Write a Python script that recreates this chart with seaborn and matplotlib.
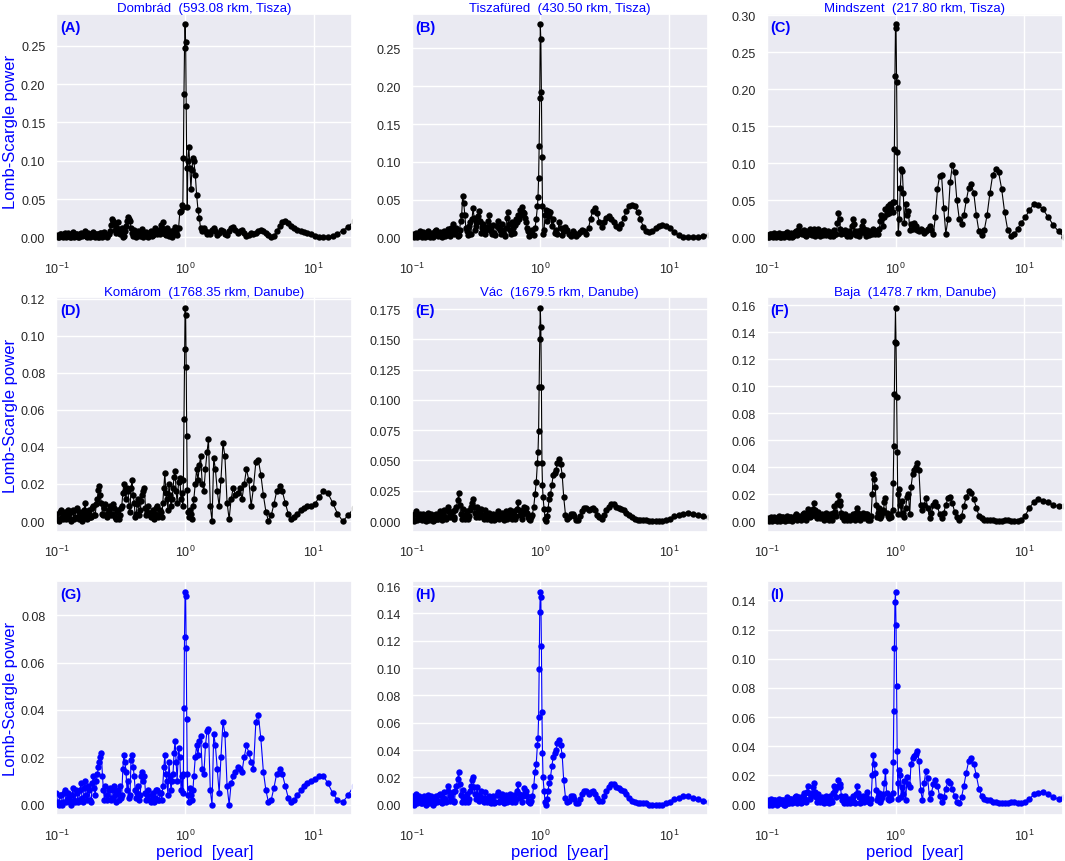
import matplotlib
matplotlib.use("Agg")
import matplotlib.pyplot as plt
import seaborn as sns

# periodos (anos), comunes a todas las estaciones
period = [
    0.100, 0.102, 0.104, 0.106, 0.108, 0.110, 0.112, 0.114, 0.116, 0.118,
    0.120, 0.122, 0.124, 0.127, 0.129, 0.132, 0.134, 0.137, 0.139, 0.142,
    0.144, 0.147, 0.149, 0.152, 0.155, 0.158, 0.161, 0.164, 0.167, 0.170,
    0.173, 0.176, 0.179, 0.183, 0.186, 0.190, 0.193, 0.197, 0.200, 0.204,
    0.208, 0.212, 0.215, 0.219, 0.223, 0.228, 0.232, 0.236, 0.240, 0.245,
    0.249, 0.254, 0.259, 0.264, 0.268, 0.273, 0.278, 0.284, 0.289, 0.295,
    0.300, 0.306, 0.311, 0.317, 0.322, 0.328, 0.334, 0.341, 0.347, 0.354,
    0.360, 0.367, 0.373, 0.380, 0.387, 0.395, 0.402, 0.410, 0.417, 0.425,
    0.432, 0.440, 0.448, 0.457, 0.465, 0.474, 0.483, 0.492, 0.501, 0.510,
    0.519, 0.529, 0.539, 0.549, 0.559, 0.570, 0.580, 0.590, 0.601, 0.612,
    0.624, 0.636, 0.647, 0.659, 0.671, 0.684, 0.696, 0.709, 0.722, 0.736,
    0.749, 0.763, 0.777, 0.792, 0.806, 0.821, 0.836, 0.852, 0.867,
    0.89, 0.91, 0.93, 0.95, 0.96, 0.97, 0.98, 0.99,
    1.00, 1.01, 1.02, 1.03, 1.04, 1.05, 1.07, 1.09,
    1.11, 1.13, 1.15, 1.17, 1.20, 1.23, 1.26, 1.29, 1.32, 1.36, 1.40,
    1.44, 1.48, 1.52, 1.57, 1.62, 1.67, 1.72, 1.78, 1.84, 1.90, 1.97,
    2.04, 2.12, 2.20, 2.28, 2.37, 2.46, 2.56, 2.66, 2.77, 2.88,
    3.00, 3.13, 3.26, 3.40, 3.55, 3.71, 3.88, 4.06, 4.25, 4.45,
    4.67, 4.90, 5.15, 5.42, 5.70, 6.00, 6.33, 6.68, 7.05, 7.45,
    7.90, 8.40, 8.90, 9.50, 10.2, 11.0, 11.9, 12.9, 14.0, 15.3,
    16.8, 18.5, 20.5,
]

pow_dombrad = [
    0.003, 0.001, 0.000, 0.004, 0.005, 0.002, 0.001, 0.005, 0.006, 0.001,
    0.002, 0.006, 0.004, 0.001, 0.000, 0.003, 0.007, 0.001, 0.002, 0.004,
    0.005, 0.000, 0.001, 0.004, 0.006, 0.002, 0.003, 0.006, 0.008, 0.002,
    0.001, 0.006, 0.005, 0.001, 0.002, 0.004, 0.007, 0.002, 0.001, 0.005,
    0.004, 0.000, 0.001, 0.006, 0.006, 0.001, 0.002, 0.007, 0.005, 0.002,
    0.001, 0.004, 0.008, 0.016, 0.024, 0.021, 0.018, 0.010, 0.006, 0.012,
    0.020, 0.009, 0.004, 0.008, 0.012, 0.001, 0.002, 0.009, 0.015, 0.022,
    0.027, 0.024, 0.021, 0.012, 0.006, 0.002, 0.010, 0.005, 0.001, 0.006,
    0.009, 0.004, 0.002, 0.007, 0.011, 0.001, 0.003, 0.006, 0.007, 0.002,
    0.001, 0.005, 0.008, 0.002, 0.003, 0.009, 0.012, 0.006, 0.004, 0.008,
    0.010, 0.004, 0.016, 0.012, 0.020, 0.009, 0.005, 0.003, 0.012, 0.006,
    0.002, 0.007, 0.009, 0.001, 0.004, 0.010, 0.013, 0.007, 0.003,
    0.012, 0.033, 0.035, 0.042, 0.040, 0.104, 0.187, 0.247,
    0.278, 0.255, 0.172, 0.090, 0.040, 0.100, 0.118, 0.090,
    0.063, 0.088, 0.103, 0.100, 0.082, 0.055, 0.036, 0.025, 0.012, 0.008, 0.012,
    0.008, 0.005, 0.007, 0.004, 0.010, 0.012, 0.008, 0.003, 0.006, 0.010, 0.009,
    0.005, 0.003, 0.008, 0.012, 0.013, 0.010, 0.006, 0.008, 0.010, 0.006,
    0.002, 0.003, 0.006, 0.004, 0.006, 0.009, 0.010, 0.009, 0.006, 0.003,
    0.001, 0.002, 0.008, 0.015, 0.020, 0.021, 0.019, 0.015, 0.012, 0.010,
    0.009, 0.007, 0.006, 0.005, 0.002, 0.001, 0.000, 0.000, 0.002, 0.005,
    0.009, 0.014, 0.021,
]

pow_tiszafured = [
    0.004, 0.002, 0.000, 0.005, 0.006, 0.001, 0.002, 0.006, 0.008, 0.003,
    0.001, 0.007, 0.005, 0.000, 0.002, 0.006, 0.009, 0.002, 0.001, 0.004,
    0.006, 0.001, 0.003, 0.008, 0.010, 0.004, 0.002, 0.006, 0.007, 0.002,
    0.001, 0.005, 0.008, 0.002, 0.003, 0.009, 0.011, 0.004, 0.002, 0.012,
    0.018, 0.008, 0.004, 0.009, 0.012, 0.002, 0.003, 0.010, 0.022, 0.030,
    0.055, 0.045, 0.030, 0.012, 0.008, 0.003, 0.015, 0.020, 0.005, 0.025,
    0.039, 0.026, 0.010, 0.015, 0.020, 0.028, 0.035, 0.022, 0.006, 0.012,
    0.018, 0.007, 0.004, 0.010, 0.014, 0.022, 0.029, 0.015, 0.008, 0.004,
    0.016, 0.006, 0.003, 0.015, 0.022, 0.012, 0.010, 0.004, 0.018, 0.010,
    0.005, 0.002, 0.012, 0.026, 0.034, 0.018, 0.010, 0.004, 0.020, 0.012,
    0.006, 0.016, 0.025, 0.020, 0.030, 0.024, 0.036, 0.030, 0.040, 0.034,
    0.032, 0.026, 0.020, 0.012, 0.008, 0.002, 0.004, 0.008, 0.010,
    0.003, 0.012, 0.025, 0.041, 0.054, 0.078, 0.121, 0.184,
    0.282, 0.262, 0.192, 0.106, 0.041, 0.005, 0.010, 0.030,
    0.036, 0.022, 0.035, 0.028, 0.034, 0.015, 0.025, 0.006, 0.010, 0.004, 0.020,
    0.012, 0.003, 0.008, 0.014, 0.010, 0.005, 0.002, 0.008, 0.006, 0.002, 0.004,
    0.007, 0.010, 0.008, 0.004, 0.012, 0.025, 0.035, 0.039, 0.032, 0.020,
    0.014, 0.020, 0.026, 0.028, 0.025, 0.020, 0.015, 0.013, 0.018, 0.026,
    0.035, 0.041, 0.043, 0.041, 0.034, 0.024, 0.014, 0.008, 0.007, 0.009,
    0.012, 0.015, 0.016, 0.015, 0.012, 0.007, 0.003, 0.001, 0.000, 0.000,
    0.001, 0.002, 0.003,
]

pow_mindszent = [
    0.003, 0.001, 0.000, 0.004, 0.005, 0.002, 0.001, 0.006, 0.004, 0.000,
    0.002, 0.005, 0.006, 0.001, 0.000, 0.004, 0.005, 0.001, 0.003, 0.006,
    0.007, 0.002, 0.001, 0.005, 0.006, 0.001, 0.002, 0.007, 0.009, 0.004,
    0.003, 0.010, 0.015, 0.006, 0.004, 0.008, 0.010, 0.003, 0.002, 0.006,
    0.008, 0.004, 0.012, 0.006, 0.003, 0.008, 0.011, 0.002, 0.004, 0.009,
    0.012, 0.005, 0.002, 0.006, 0.008, 0.003, 0.010, 0.006, 0.003, 0.007,
    0.009, 0.004, 0.002, 0.006, 0.007, 0.002, 0.010, 0.005, 0.004, 0.020,
    0.033, 0.025, 0.012, 0.004, 0.006, 0.009, 0.010, 0.004, 0.002, 0.005,
    0.008, 0.002, 0.004, 0.015, 0.025, 0.018, 0.008, 0.003, 0.006, 0.009,
    0.002, 0.006, 0.010, 0.016, 0.022, 0.012, 0.006, 0.002, 0.010, 0.005,
    0.003, 0.007, 0.008, 0.004, 0.011, 0.006, 0.004, 0.008, 0.009, 0.005,
    0.012, 0.022, 0.030, 0.026, 0.015, 0.028, 0.038, 0.032, 0.043,
    0.033, 0.045, 0.040, 0.048, 0.035, 0.048, 0.120, 0.218,
    0.288, 0.283, 0.210, 0.115, 0.040, 0.006, 0.025, 0.067,
    0.093, 0.090, 0.060, 0.020, 0.045, 0.030, 0.036, 0.010, 0.018, 0.012, 0.020,
    0.016, 0.010, 0.008, 0.012, 0.010, 0.006, 0.008, 0.012, 0.016, 0.010, 0.004,
    0.028, 0.065, 0.083, 0.084, 0.040, 0.005, 0.025, 0.075, 0.098, 0.088,
    0.050, 0.025, 0.018, 0.030, 0.050, 0.067, 0.072, 0.060, 0.030, 0.008,
    0.003, 0.010, 0.030, 0.060, 0.085, 0.092, 0.088, 0.066, 0.034, 0.010,
    0.002, 0.004, 0.012, 0.020, 0.027, 0.037, 0.045, 0.044, 0.038, 0.028,
    0.017, 0.008, 0.000,
]

pow_komarom = [
    0.004, 0.001, 0.000, 0.005, 0.006, 0.002, 0.001, 0.004, 0.005, 0.001,
    0.002, 0.006, 0.003, 0.001, 0.000, 0.005, 0.006, 0.001, 0.002, 0.006,
    0.007, 0.002, 0.001, 0.005, 0.004, 0.000, 0.002, 0.006, 0.010, 0.004,
    0.001, 0.005, 0.006, 0.002, 0.002, 0.007, 0.008, 0.003, 0.003, 0.009,
    0.012, 0.017, 0.019, 0.014, 0.010, 0.004, 0.003, 0.007, 0.009, 0.004,
    0.002, 0.006, 0.008, 0.003, 0.004, 0.009, 0.007, 0.002, 0.001, 0.005,
    0.006, 0.001, 0.003, 0.007, 0.008, 0.015, 0.020, 0.016, 0.012, 0.018,
    0.016, 0.008, 0.005, 0.018, 0.022, 0.014, 0.010, 0.002, 0.004, 0.009,
    0.012, 0.003, 0.006, 0.011, 0.014, 0.016, 0.018, 0.007, 0.003, 0.005,
    0.008, 0.003, 0.002, 0.005, 0.006, 0.001, 0.004, 0.007, 0.008, 0.002,
    0.003, 0.006, 0.005, 0.002, 0.010, 0.018, 0.026, 0.015, 0.012, 0.006,
    0.020, 0.014, 0.008, 0.012, 0.018, 0.024, 0.027, 0.016, 0.010,
    0.021, 0.023, 0.012, 0.015, 0.008, 0.022, 0.055, 0.093,
    0.115, 0.111, 0.083, 0.046, 0.017, 0.005, 0.002, 0.006,
    0.004, 0.001, 0.008, 0.012, 0.020, 0.028, 0.022, 0.030, 0.035, 0.020, 0.016,
    0.028, 0.037, 0.044, 0.008, 0.000, 0.034, 0.028, 0.016, 0.008, 0.022, 0.042,
    0.035, 0.010, 0.001, 0.012, 0.018, 0.014, 0.015, 0.018, 0.012, 0.020,
    0.028, 0.022, 0.008, 0.018, 0.032, 0.033, 0.025, 0.014, 0.005, 0.000,
    0.003, 0.009, 0.016, 0.019, 0.016, 0.010, 0.004, 0.001, 0.002, 0.004,
    0.006, 0.007, 0.008, 0.008, 0.009, 0.013, 0.016, 0.015, 0.010, 0.004,
    0.000, 0.003, 0.007,
]

pow_vac = [
    0.005, 0.002, 0.000, 0.006, 0.008, 0.001, 0.002, 0.005, 0.006, 0.002,
    0.001, 0.006, 0.005, 0.001, 0.000, 0.004, 0.007, 0.001, 0.002, 0.006,
    0.004, 0.000, 0.001, 0.005, 0.006, 0.002, 0.002, 0.006, 0.008, 0.003,
    0.001, 0.006, 0.009, 0.003, 0.002, 0.008, 0.012, 0.005, 0.003, 0.007,
    0.008, 0.003, 0.002, 0.009, 0.012, 0.017, 0.023, 0.013, 0.006, 0.002,
    0.010, 0.004, 0.002, 0.006, 0.008, 0.002, 0.004, 0.009, 0.012, 0.015,
    0.018, 0.012, 0.007, 0.003, 0.012, 0.008, 0.003, 0.007, 0.010, 0.004,
    0.005, 0.002, 0.009, 0.004, 0.002, 0.006, 0.007, 0.003, 0.001, 0.005,
    0.006, 0.001, 0.002, 0.006, 0.008, 0.002, 0.003, 0.006, 0.007, 0.003,
    0.001, 0.005, 0.008, 0.002, 0.003, 0.007, 0.009, 0.004, 0.002, 0.006,
    0.008, 0.002, 0.004, 0.010, 0.016, 0.009, 0.005, 0.008, 0.002, 0.006,
    0.012, 0.010, 0.011, 0.007, 0.003, 0.002, 0.001, 0.003, 0.005,
    0.012, 0.022, 0.032, 0.048, 0.057, 0.074, 0.111, 0.150,
    0.176, 0.160, 0.111, 0.048, 0.030, 0.020, 0.010, 0.002,
    0.000, 0.004, 0.010, 0.018, 0.022, 0.030, 0.038, 0.040, 0.042, 0.048, 0.051,
    0.047, 0.038, 0.020, 0.005, 0.002, 0.003, 0.006, 0.006, 0.004, 0.001, 0.001,
    0.004, 0.008, 0.011, 0.011, 0.009, 0.010, 0.011, 0.009, 0.005, 0.003,
    0.002, 0.005, 0.009, 0.012, 0.014, 0.014, 0.012, 0.011, 0.010, 0.009,
    0.007, 0.005, 0.003, 0.002, 0.001, 0.001, 0.001, 0.001, 0.000, 0.000,
    0.000, 0.000, 0.000, 0.001, 0.002, 0.004, 0.005, 0.006, 0.007, 0.006,
    0.005, 0.004, 0.003,
]

pow_baja = [
    0.002, 0.001, 0.000, 0.002, 0.003, 0.000, 0.001, 0.003, 0.002, 0.001,
    0.000, 0.002, 0.004, 0.000, 0.001, 0.003, 0.003, 0.001, 0.000, 0.002,
    0.004, 0.001, 0.001, 0.003, 0.003, 0.000, 0.002, 0.004, 0.005, 0.002,
    0.001, 0.003, 0.004, 0.001, 0.002, 0.005, 0.006, 0.002, 0.001, 0.006,
    0.009, 0.005, 0.003, 0.004, 0.006, 0.009, 0.013, 0.008, 0.004, 0.002,
    0.007, 0.003, 0.002, 0.004, 0.005, 0.002, 0.001, 0.004, 0.006, 0.002,
    0.003, 0.001, 0.005, 0.002, 0.001, 0.006, 0.011, 0.007, 0.004, 0.013,
    0.019, 0.015, 0.012, 0.006, 0.003, 0.001, 0.005, 0.002, 0.001, 0.003,
    0.004, 0.001, 0.002, 0.004, 0.005, 0.002, 0.001, 0.006, 0.010, 0.006,
    0.004, 0.001, 0.002, 0.004, 0.006, 0.002, 0.003, 0.005, 0.005, 0.001,
    0.002, 0.001, 0.004, 0.020, 0.035, 0.031, 0.025, 0.012, 0.003, 0.006,
    0.010, 0.002, 0.004, 0.006, 0.008, 0.014, 0.017, 0.006, 0.004,
    0.002, 0.005, 0.003, 0.008, 0.028, 0.056, 0.094, 0.133,
    0.158, 0.132, 0.092, 0.051, 0.020, 0.005, 0.024, 0.012,
    0.005, 0.015, 0.006, 0.003, 0.010, 0.018, 0.020, 0.005, 0.025, 0.035, 0.038,
    0.040, 0.043, 0.038, 0.012, 0.008, 0.012, 0.017, 0.010, 0.002, 0.006, 0.012,
    0.014, 0.011, 0.005, 0.002, 0.006, 0.012, 0.017, 0.018, 0.013, 0.007,
    0.003, 0.001, 0.004, 0.011, 0.018, 0.022, 0.021, 0.016, 0.010, 0.004,
    0.002, 0.001, 0.001, 0.001, 0.001, 0.000, 0.000, 0.000, 0.001, 0.001,
    0.000, 0.000, 0.000, 0.001, 0.004, 0.010, 0.014, 0.016, 0.015, 0.014,
    0.012, 0.011, 0.011,
]

pow_komarom_b = [
    0.005, 0.001, 0.000, 0.004, 0.004, 0.000, 0.001, 0.005, 0.006, 0.001,
    0.002, 0.005, 0.003, 0.001, 0.000, 0.004, 0.007, 0.002, 0.001, 0.006,
    0.005, 0.001, 0.002, 0.006, 0.009, 0.003, 0.001, 0.007, 0.010, 0.004,
    0.002, 0.008, 0.006, 0.002, 0.001, 0.009, 0.012, 0.007, 0.004, 0.010,
    0.013, 0.016, 0.018, 0.020, 0.022, 0.012, 0.006, 0.002, 0.008, 0.004,
    0.002, 0.006, 0.007, 0.002, 0.003, 0.006, 0.008, 0.004, 0.001, 0.005,
    0.006, 0.002, 0.008, 0.003, 0.004, 0.015, 0.021, 0.018, 0.014, 0.006,
    0.010, 0.003, 0.004, 0.019, 0.021, 0.016, 0.012, 0.006, 0.003, 0.005,
    0.008, 0.002, 0.004, 0.012, 0.014, 0.010, 0.012, 0.005, 0.002, 0.004,
    0.006, 0.002, 0.001, 0.004, 0.005, 0.001, 0.003, 0.006, 0.006, 0.002,
    0.002, 0.005, 0.005, 0.002, 0.008, 0.016, 0.021, 0.013, 0.010, 0.004,
    0.018, 0.012, 0.006, 0.010, 0.013, 0.022, 0.027, 0.018, 0.010,
    0.024, 0.020, 0.006, 0.012, 0.005, 0.013, 0.041, 0.071,
    0.090, 0.088, 0.066, 0.036, 0.013, 0.004, 0.001, 0.007,
    0.004, 0.002, 0.006, 0.012, 0.020, 0.025, 0.021, 0.027, 0.029, 0.015, 0.013,
    0.025, 0.031, 0.032, 0.006, 0.000, 0.030, 0.025, 0.015, 0.005, 0.020, 0.035,
    0.030, 0.008, 0.000, 0.009, 0.012, 0.014, 0.016, 0.015, 0.014, 0.020,
    0.025, 0.022, 0.018, 0.015, 0.035, 0.038, 0.028, 0.014, 0.006, 0.001,
    0.002, 0.007, 0.013, 0.015, 0.013, 0.008, 0.003, 0.001, 0.002, 0.004,
    0.006, 0.008, 0.009, 0.010, 0.011, 0.012, 0.012, 0.009, 0.005, 0.002,
    0.001, 0.004, 0.008,
]

pow_vac_b = [
    0.006, 0.002, 0.000, 0.005, 0.008, 0.001, 0.002, 0.006, 0.005, 0.001,
    0.001, 0.005, 0.006, 0.002, 0.000, 0.004, 0.007, 0.001, 0.002, 0.006,
    0.005, 0.000, 0.001, 0.004, 0.006, 0.002, 0.003, 0.007, 0.008, 0.002,
    0.001, 0.005, 0.009, 0.004, 0.002, 0.010, 0.014, 0.006, 0.003, 0.006,
    0.009, 0.003, 0.002, 0.010, 0.014, 0.019, 0.024, 0.015, 0.007, 0.002,
    0.011, 0.004, 0.002, 0.006, 0.008, 0.002, 0.004, 0.010, 0.014, 0.018,
    0.020, 0.013, 0.008, 0.004, 0.013, 0.007, 0.003, 0.006, 0.010, 0.004,
    0.005, 0.002, 0.009, 0.004, 0.002, 0.005, 0.006, 0.002, 0.001, 0.004,
    0.006, 0.001, 0.002, 0.007, 0.009, 0.002, 0.003, 0.006, 0.008, 0.003,
    0.001, 0.004, 0.007, 0.002, 0.003, 0.006, 0.008, 0.004, 0.002, 0.005,
    0.007, 0.002, 0.004, 0.010, 0.015, 0.008, 0.005, 0.007, 0.002, 0.006,
    0.012, 0.009, 0.010, 0.006, 0.003, 0.002, 0.001, 0.003, 0.006,
    0.014, 0.024, 0.030, 0.044, 0.049, 0.064, 0.099, 0.141,
    0.156, 0.152, 0.116, 0.068, 0.038, 0.020, 0.010, 0.002,
    0.000, 0.004, 0.010, 0.016, 0.020, 0.028, 0.035, 0.038, 0.040, 0.045, 0.047,
    0.044, 0.036, 0.018, 0.005, 0.002, 0.003, 0.006, 0.006, 0.004, 0.001, 0.001,
    0.004, 0.008, 0.010, 0.010, 0.008, 0.009, 0.010, 0.008, 0.005, 0.003,
    0.003, 0.006, 0.010, 0.013, 0.015, 0.015, 0.013, 0.012, 0.011, 0.010,
    0.008, 0.005, 0.003, 0.002, 0.001, 0.001, 0.001, 0.001, 0.000, 0.000,
    0.000, 0.000, 0.000, 0.001, 0.002, 0.004, 0.005, 0.006, 0.006, 0.005,
    0.004, 0.003, 0.002,
]

pow_baja_b = [
    0.003, 0.001, 0.000, 0.003, 0.004, 0.000, 0.001, 0.003, 0.003, 0.001,
    0.000, 0.002, 0.004, 0.001, 0.001, 0.003, 0.003, 0.000, 0.000, 0.003,
    0.005, 0.001, 0.001, 0.004, 0.004, 0.001, 0.002, 0.005, 0.006, 0.002,
    0.001, 0.004, 0.005, 0.001, 0.002, 0.006, 0.008, 0.004, 0.002, 0.009,
    0.013, 0.008, 0.004, 0.006, 0.008, 0.012, 0.015, 0.009, 0.005, 0.002,
    0.007, 0.003, 0.002, 0.004, 0.005, 0.002, 0.001, 0.004, 0.006, 0.002,
    0.003, 0.001, 0.006, 0.003, 0.002, 0.008, 0.013, 0.010, 0.005, 0.012,
    0.017, 0.014, 0.012, 0.006, 0.003, 0.001, 0.006, 0.003, 0.001, 0.003,
    0.004, 0.001, 0.002, 0.004, 0.006, 0.002, 0.001, 0.007, 0.013, 0.008,
    0.005, 0.001, 0.002, 0.005, 0.006, 0.002, 0.003, 0.006, 0.009, 0.004,
    0.002, 0.001, 0.004, 0.020, 0.034, 0.028, 0.022, 0.010, 0.003, 0.005,
    0.008, 0.002, 0.004, 0.005, 0.007, 0.015, 0.023, 0.008, 0.004,
    0.003, 0.006, 0.004, 0.008, 0.029, 0.064, 0.107, 0.139,
    0.146, 0.123, 0.081, 0.037, 0.015, 0.004, 0.024, 0.020,
    0.005, 0.012, 0.007, 0.016, 0.003, 0.019, 0.014, 0.012, 0.028, 0.032, 0.033,
    0.035, 0.037, 0.030, 0.010, 0.003, 0.015, 0.023, 0.018, 0.004, 0.008, 0.014,
    0.017, 0.013, 0.006, 0.002, 0.005, 0.011, 0.016, 0.015, 0.011, 0.006,
    0.002, 0.001, 0.005, 0.013, 0.022, 0.030, 0.032, 0.028, 0.020, 0.011,
    0.006, 0.004, 0.003, 0.003, 0.002, 0.002, 0.001, 0.001, 0.001, 0.001,
    0.002, 0.002, 0.001, 0.001, 0.002, 0.004, 0.007, 0.008, 0.009, 0.007,
    0.005, 0.004, 0.005,
]

titles = [
    "Dombrád  (593.08 rkm, Tisza)",
    "Tiszafüred  (430.50 rkm, Tisza)",
    "Mindszent  (217.80 rkm, Tisza)",
    "Komárom  (1768.35 rkm, Danube)",
    "Vác  (1679.5 rkm, Danube)",
    "Baja  (1478.7 rkm, Danube)",
    "", "", "",
]
letters = ["(A)", "(B)", "(C)", "(D)", "(E)", "(F)", "(G)", "(H)", "(I)"]
powers = [pow_dombrad, pow_tiszafured, pow_mindszent,
          pow_komarom, pow_vac, pow_baja,
          pow_komarom_b, pow_vac_b, pow_baja_b]

for p in powers:
    assert len(p) == len(period), len(p)

# Estilo visual
sns.set_theme(style="darkgrid")
plt.rcParams["font.family"] = ["Liberation Sans", "DejaVu Sans"]
plt.rcParams["mathtext.fontset"] = "custom"
plt.rcParams["mathtext.rm"] = "Liberation Sans"
plt.rcParams["mathtext.default"] = "regular"

fig, axes = plt.subplots(3, 3, figsize=(10.65, 8.62), dpi=100)
fig.subplots_adjust(left=0.053, right=0.998, top=0.983, bottom=0.053,
                    wspace=0.2, hspace=0.21)

for i, ax in enumerate(axes.flat):
    color = "blue" if i >= 6 else "black"
    sns.lineplot(x=period, y=powers[i], ax=ax, color=color, marker="o",
                 markersize=4.6, markeredgewidth=0, linewidth=0.8)
    ax.set_xscale("log")
    ax.set_xlim(0.1, 20)
    ax.tick_params(axis="y", labelsize=9, pad=2)
    ax.tick_params(axis="x", labelsize=9, pad=3)
    if titles[i]:
        ax.set_title(titles[i], color="blue", fontsize=9.5, pad=2)
    ax.text(0.012, 0.975, letters[i], transform=ax.transAxes, color="blue",
            fontsize=10.5, fontweight="bold", ha="left", va="top")
    ax.set_xlabel("period  [year]" if i >= 6 else "", color="blue",
                  fontsize=12, labelpad=1)
    ax.set_ylabel("Lomb-Scargle power" if i % 3 == 0 else "", color="blue",
                  fontsize=12, labelpad=2)

plt.savefig("out.png", dpi=100)
